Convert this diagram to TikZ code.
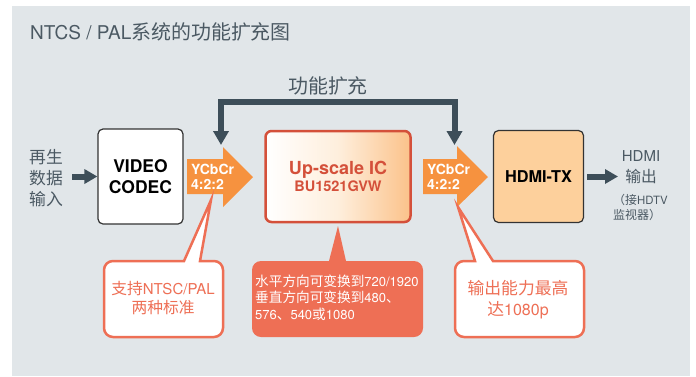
\documentclass[tikz,border=0pt]{standalone}
\usepackage{fontspec}
\setmainfont{TeX Gyre Heros}
\newfontfamily\cjk[Scale=1.05]{Noto Sans CJK SC}
\newcommand\zh[1]{{\cjk #1}}
\usetikzlibrary{arrows.meta}
\definecolor{panel}{HTML}{E1E6E9}
\definecolor{dark}{HTML}{3D4E59}
\definecolor{tgray}{HTML}{4B5963}
\definecolor{orng}{HTML}{F6923F}
\definecolor{upred}{HTML}{D4503A}
\definecolor{peach}{HTML}{FDD09C}
\definecolor{peachd}{HTML}{FBC28A}
\definecolor{salmon}{HTML}{EE6F55}
\definecolor{boxline}{HTML}{333333}
\begin{document}
\begin{tikzpicture}[x=1pt,y=-1pt,
  box/.style={draw=boxline, line width=1.2pt, rounded corners=5pt, align=center, inner sep=0},
  harrow/.style={draw=dark, line width=6pt, -{Triangle[length=13pt,width=14pt]}},
  bracket/.style={draw=dark, line width=6pt, line join=miter, {Triangle[length=14pt,width=15pt]}-{Triangle[length=14pt,width=15pt]}},
  ylabel/.style={text=white, align=left, inner sep=0, anchor=west, font=\fontsize{14}{14.5}\selectfont\bfseries},
  callw/.style={draw=salmon, line width=2.5pt, fill=white, line join=miter},
  callf/.style={fill=salmon},
]
\useasboundingbox (0,0) rectangle (696,376);
\fill[white] (0,0) rectangle (696,376);
\fill[panel] (12,6) rectangle (690,376);

\node[anchor=west, text=tgray, inner sep=0] (title) at (30,32) {\fontsize{19}{22}\selectfont NTCS / PAL\zh{系统的功能扩充图}};

% input text
\node[text=tgray, align=center, inner sep=0, font=\fontsize{16}{21}\selectfont] (in) at (46,178) {\zh{再生}\\\zh{数据}\\\zh{输入}};

% boxes
\node[box, fill=white, minimum width=85pt, minimum height=95pt, font=\fontsize{17.5}{21}\selectfont\bfseries] (codec) at (140.5,176.5) {VIDEO\\CODEC};
\node[draw=upred, line width=2.5pt, rounded corners=6pt, left color=white, right color=peachd, middle color=peach!35, minimum width=145pt, minimum height=91pt, align=center, inner sep=0, text=upred] (up) at (338,176.5) {{\fontsize{18}{22}\selectfont\bfseries Up-scale IC}\\[1pt]{\fontsize{14.5}{18}\selectfont\bfseries BU1521GVW}};
\node[box, fill=peach, minimum width=90pt, minimum height=92pt, font=\fontsize{16.3}{20}\selectfont\bfseries] (hdmi) at (538.5,176.5) {HDMI-TX};

% output text
\node[text=tgray, inner sep=0, align=center, font=\fontsize{15}{21}\selectfont] (out) at (641,167.5) {HDMI\\\zh{输出}};
\node[text=tgray, inner sep=0, align=left, anchor=west, font=\fontsize{11.4}{15.5}\selectfont] (out2) at (613,207.5) {\zh{（接}HDTV\\\zh{监视器）}};

% in/out arrows
\coordinate (inout) at (72,176.5);
\coordinate (outin) at (618,176.5);
\draw[harrow] (inout) -- (codec.west);
\draw[harrow, shorten <=3pt] (hdmi.east) -- (outin);

% orange block arrows
\fill[orng] (187,159) -- (223,159) -- (223,147) -- (253,177) -- (223,207) -- (223,194) -- (187,194) -- cycle;
\fill[orng] (423,159) -- (457,159) -- (457,146) -- (488,177) -- (457,207) -- (457,194) -- (423,194) -- cycle;
\node[ylabel] (ya1) at (191,177) {YCbCr\\4:2:2};
\node[ylabel] (ya2) at (427,177) {YCbCr\\4:2:2};

% bracket
\coordinate (b1) at (221,145);
\coordinate (b2) at (454.5,145);
\coordinate (btop) at (338,102);
\draw[bracket] (b1) |- (btop) -| (b2);
\node[text=tgray, inner sep=0, font=\fontsize{19}{22}\selectfont] (func) at (328,85.5) {\zh{功能扩充}};

% callout 1
\draw[callw] (150,261) [rounded corners=9pt] -- (104,261) -- (104,337) -- (223,337) -- (223,261) [sharp corners] -- (200,261) -- (211,200) -- (184,261) -- cycle;
\node[text=salmon, align=center, inner sep=0, font=\fontsize{15}{19}\selectfont] (c1) at (163,298) {\zh{支持}NTSC/PAL\\\zh{两种标准}};

% callout 2
\fill[callf] (300,261) [rounded corners=9pt] -- (252,261) -- (252,337) -- (423,337) -- (423,261) [sharp corners] -- (346,261) -- (338,226) -- (329,261) -- cycle;
\node[text=white, align=left, anchor=west, inner sep=0, font=\fontsize{13}{16.5}\selectfont] (c2) at (255,297.5) {\zh{水平方向可变换到}720/1920\\\zh{垂直方向可变换到}480\zh{、}\\576\zh{、}540\zh{或}1080};

% callout 3
\draw[callw] (520,261) [rounded corners=9pt] -- (584,261) -- (584,337) -- (455,337) -- (455,261) [sharp corners] -- (475,261) -- (458,207) -- (493,261) -- cycle;
\node[text=salmon, align=center, inner sep=0, font=\fontsize{16}{21}\selectfont] (c3) at (518,300) {\zh{输出能力最高}\\\zh{达}1080p};
\end{tikzpicture}
\end{document}
